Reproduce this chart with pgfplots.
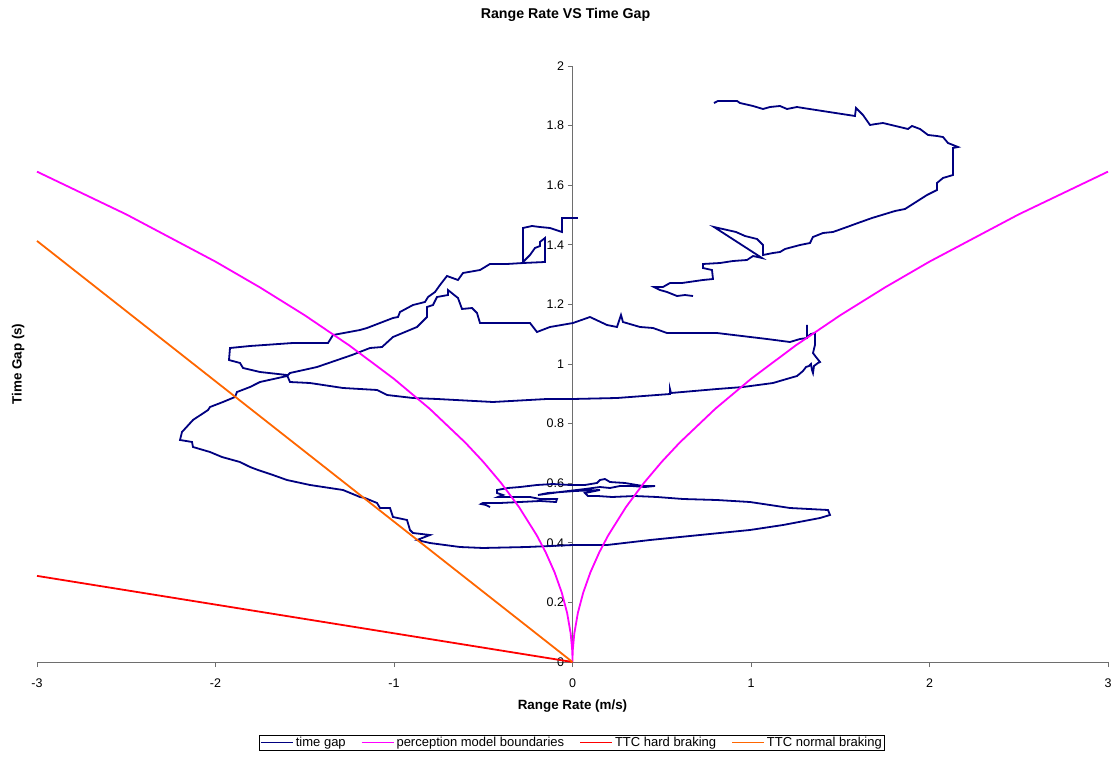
\documentclass[border=0pt]{standalone}
\usepackage{fontspec}
\setmainfont{Liberation Sans}
\usepackage{pgfplots}
\pgfplotsset{compat=1.18}
\definecolor{tgap}{RGB}{0,0,128}
\definecolor{pmb}{RGB}{255,0,255}
\definecolor{hard}{RGB}{255,0,0}
\definecolor{norm}{RGB}{255,102,0}
\definecolor{axgray}{RGB}{110,110,110}
\begin{document}
\begin{tikzpicture}
\path[use as bounding box] (-37pt,-94pt) rectangle (1079pt,662pt);
\begin{axis}[
  at={(0pt,0pt)}, anchor=south west,
  scale only axis, width=1071pt, height=596pt,
  xmin=-3, xmax=3, ymin=0, ymax=2,
  axis x line=bottom, axis y line=left, axis y line shift=-535.5pt,
  axis line style={-, axgray, line width=1pt},
  xtick={-3,-2,-1,0,1,2,3},
  ytick={0,0.2,0.4,0.6,0.8,1,1.2,1.4,1.6,1.8,2},
  tick align=outside, major tick length=5pt,
  tick style={axgray, line width=0.8pt},
  /pgf/number format/assume math mode=true,
  /pgf/number format/fixed,
  ticklabel style={font=\fontsize{12.5}{14}\selectfont},
  xticklabel style={yshift=-8pt},
  yticklabel style={xshift=0pt},
  title={\bfseries Range Rate VS Time Gap},
  title style={at={(axis description cs:0.4935,1.0756)}, anchor=center, font=\fontsize{14.2}{16}\selectfont},
  xlabel={\bfseries Range Rate (m/s)},
  xlabel style={at={(axis description cs:0.5,-0.0738)}, anchor=center, font=\fontsize{13.4}{15}\selectfont},
  ylabel={\bfseries Time Gap (s)},
  ylabel style={at={(axis description cs:-0.0177,0.5)}, anchor=center, rotate=0, font=\fontsize{13.4}{15}\selectfont},
  legend columns=4,
  legend style={at={(axis description cs:0.4995,-0.135)}, anchor=center,
    draw=black, line width=0.7pt, font=\fontsize{13}{14}\selectfont,
    inner xsep=1pt, inner ysep=0pt,
    /tikz/every even column/.append style={column sep=13pt}},
  legend image code/.code={\draw[#1, line width=1.8pt] (0pt,0pt) -- (32pt,0pt);},
  clip=false,
]
% time gap, main trajectory
\addplot[tgap, line width=1.8pt] coordinates {
(0.0308,1.4899) (-0.0588,1.4899) (-0.0588,1.4430) (-0.1261,1.4564) (-0.1821,1.4597)
(-0.2269,1.4631) (-0.2773,1.4564) (-0.2773,1.3423) (-0.2381,1.3658) (-0.2101,1.3893)
(-0.1821,1.3960) (-0.1821,1.4094) (-0.1541,1.4228) (-0.1541,1.3423) (-0.2773,1.3389)
(-0.3669,1.3356) (-0.4622,1.3356) (-0.5182,1.3154) (-0.6134,1.3054) (-0.6415,1.2819)
(-0.7031,1.2953) (-0.7423,1.2651) (-0.7703,1.2416) (-0.8095,1.2248) (-0.8263,1.2081)
(-0.8936,1.1980) (-0.9664,1.1745) (-0.9776,1.1577) (-1.0056,1.1544) (-1.1513,1.1208)
(-1.1905,1.1141) (-1.3417,1.0973) (-1.3697,1.0705) (-1.5658,1.0705) (-1.8067,1.0604)
(-1.9188,1.0537) (-1.9244,1.0134) (-1.8627,1.0034) (-1.8459,0.9866) (-1.7507,0.9732)
(-1.5994,0.9631) (-1.5826,0.9396) (-1.4706,0.9362) (-1.2857,0.9195) (-1.0952,0.9128)
(-1.0392,0.8960) (-0.8936,0.8859) (-0.7591,0.8826) (-0.4454,0.8725) (-0.1429,0.8826)
(0.0028,0.8826) (0.2493,0.8859) (0.5462,0.8993) (0.5462,0.9161) (0.5518,0.9027)
(0.8095,0.9161) (0.9552,0.9228) (1.1232,0.9362) (1.2185,0.9530) (1.2577,0.9597)
(1.2913,0.9765) (1.3081,0.9899) (1.3249,0.9933) (1.3361,1.0000) (1.3417,0.9799)
(1.3473,0.9698) (1.3529,0.9933) (1.3754,1.0034) (1.3866,1.0067) (1.3641,1.0235)
(1.3473,1.0369) (1.3585,1.0638) (1.3585,1.1040) (1.3361,1.1007) (1.3137,1.0906)
(1.3137,1.1309) (1.3137,1.0873) (1.2745,1.0839) (1.2185,1.0738) (1.0896,1.0839)
(0.8095,1.1040) (0.5294,1.1040) (0.4510,1.1208) (0.3782,1.1242) (0.2829,1.1409)
(0.2717,1.1644) (0.2493,1.1242) (0.1933,1.1309) (0.0980,1.1577) (0.0028,1.1376)
(-0.1261,1.1242) (-0.1989,1.1074) (-0.2381,1.1376) (-0.4454,1.1376) (-0.5182,1.1376)
(-0.5350,1.1711) (-0.5630,1.1879) (-0.6190,1.1846) (-0.6415,1.2215) (-0.6975,1.2483)
(-0.6975,1.2315) (-0.7591,1.2248) (-0.7815,1.1980) (-0.8151,1.1913) (-0.8151,1.1577)
(-0.8711,1.1242) (-1.0056,1.0906) (-1.0672,1.0570) (-1.1345,1.0537) (-1.2353,1.0302)
(-1.4314,0.9899) (-1.5826,0.9698) (-1.5994,0.9597) (-1.7507,0.9396) (-1.8067,0.9228)
(-1.8796,0.9060) (-1.8908,0.8893) (-1.9580,0.8725) (-2.0308,0.8557) (-2.0420,0.8456)
(-2.1261,0.8121) (-2.1877,0.7718) (-2.1989,0.7450) (-2.1317,0.7383) (-2.1261,0.7215)
(-2.0308,0.7047) (-1.9636,0.6879) (-1.8627,0.6711) (-1.8067,0.6544) (-1.7619,0.6443)
(-1.6779,0.6275) (-1.5994,0.6107) (-1.4706,0.5940) (-1.2857,0.5772) (-1.1905,0.5537)
(-1.1625,0.5503) (-1.0952,0.5336) (-1.0784,0.5168) (-1.0224,0.5168) (-1.0056,0.4866)
(-0.9272,0.4765) (-0.9104,0.4430) (-0.8936,0.4329) (-0.7983,0.4262) (-0.8711,0.4094)
(-0.7983,0.3993) (-0.6303,0.3859) (-0.5014,0.3826) (-0.2549,0.3859) (0.0028,0.3926)
(0.1933,0.3926) (0.4342,0.4094) (0.7143,0.4262) (0.9944,0.4430) (1.1793,0.4597)
(1.3866,0.4832) (1.4426,0.4933) (1.4314,0.5101) (1.2185,0.5168) (0.9944,0.5369)
(0.8095,0.5436) (0.6190,0.5470) (0.4734,0.5537) (0.3501,0.5570) (0.2213,0.5537)
(0.1429,0.5570) (0.0868,0.5570) (0.0700,0.5671) (0.1541,0.5772) (0.0140,0.5738)
(-0.1373,0.5671) (-0.1933,0.5604) (-0.0700,0.5705) (0.0700,0.5805) (0.1541,0.5872)
(0.2101,0.5839) (0.2661,0.5906) (0.3333,0.5906) (0.4062,0.5872) (0.4622,0.5906)
(0.3950,0.5906) (0.2941,0.6007) (0.2101,0.6040) (0.1821,0.6141) (0.1541,0.6107)
(0.1373,0.6007) (0.0700,0.5940) (-0.0140,0.5940) (-0.1092,0.5973) (-0.1989,0.5940)
(-0.2941,0.5872) (-0.3613,0.5839) (-0.4230,0.5772) (-0.4230,0.5671) (-0.3894,0.5604)
(-0.4174,0.5537) (-0.2381,0.5537) (-0.1821,0.5470) (-0.0868,0.5470) (-0.0924,0.5369)
(-0.1821,0.5403) (-0.2941,0.5369) (-0.4062,0.5336) (-0.5014,0.5336) (-0.5126,0.5302)
(-0.4846,0.5268) (-0.4622,0.5201)
};
\addlegendentry{time gap}
\addplot[pmb, line width=1.8pt] coordinates {
(-3,1.6455) (-2.5,1.5021) (-2,1.3435) (-1.75,1.2567) (-1.5,1.1635) (-1.25,1.0621)
(-1,0.95) (-0.8,0.8497) (-0.6,0.7359) (-0.5,0.6718) (-0.4,0.6008) (-0.3,0.5203)
(-0.2,0.4249) (-0.15,0.3679) (-0.1,0.3004) (-0.06,0.2327) (-0.03,0.1645) (-0.01,0.095)
(-0.002,0.0425) (-0.0005,0.0212) (0,0)
(0.0005,0.0212) (0.002,0.0425) (0.01,0.095) (0.03,0.1645) (0.06,0.2327) (0.1,0.3004)
(0.15,0.3679) (0.2,0.4249) (0.3,0.5203) (0.4,0.6008) (0.5,0.6718) (0.6,0.7359)
(0.8,0.8497) (1,0.95) (1.25,1.0621) (1.5,1.1635) (1.75,1.2567) (2,1.3435)
(2.5,1.5021) (3,1.6455)
};
\addlegendentry{perception model boundaries}
\addplot[hard, line width=1.8pt] coordinates {(-3,0.289) (0,0)};
\addlegendentry{TTC hard braking}
\addplot[norm, line width=1.8pt] coordinates {(-3,1.413) (0,0)};
\addlegendentry{TTC normal braking}
% time gap, upper loop (separate stretch of the same series)
\addplot[tgap, line width=1.8pt, forget plot] coordinates {
(0.7927,1.8758) (0.8151,1.8826) (0.8599,1.8826) (0.9216,1.8826) (0.9384,1.8758)
(1.0112,1.8658) (1.0672,1.8557) (1.1064,1.8624) (1.1625,1.8658) (1.2017,1.8557)
(1.2577,1.8624) (1.2913,1.8591) (1.5826,1.8322) (1.5882,1.8591) (1.6274,1.8356)
(1.6667,1.8020) (1.7003,1.8054) (1.7395,1.8087) (1.8796,1.7886) (1.9020,1.7987)
(1.9468,1.7886) (1.9916,1.7685) (2.0420,1.7651) (2.0756,1.7617) (2.1036,1.7416)
(2.1317,1.7349) (2.1597,1.7282) (2.1317,1.7248) (2.1317,1.6342) (2.0756,1.6242)
(2.0420,1.6074) (2.0420,1.5839) (1.9860,1.5671) (1.8627,1.5201) (1.8067,1.5134)
(1.6779,1.4899) (1.5994,1.4732) (1.5378,1.4597) (1.4594,1.4430) (1.4034,1.4396)
(1.3473,1.4262) (1.3305,1.4060) (1.2745,1.3993) (1.1905,1.3859) (1.1625,1.3758)
(1.1232,1.3725) (1.0672,1.3658) (1.0672,1.3993) (1.0336,1.4195) (0.9664,1.4295)
(0.9160,1.4430) (0.7927,1.4597) (1.0616,1.3557) (1.0112,1.3624) (0.9776,1.3490)
(0.8992,1.3456) (0.8263,1.3389) (0.7311,1.3356) (0.7311,1.3221) (0.7815,1.3154)
(0.7871,1.2852) (0.7311,1.2819) (0.6134,1.2718) (0.5462,1.2718) (0.5070,1.2584)
(0.4566,1.2584) (0.4902,1.2483) (0.5294,1.2416) (0.5854,1.2282) (0.6303,1.2315)
(0.6751,1.2282)
};
\end{axis}
\end{tikzpicture}
\end{document}
